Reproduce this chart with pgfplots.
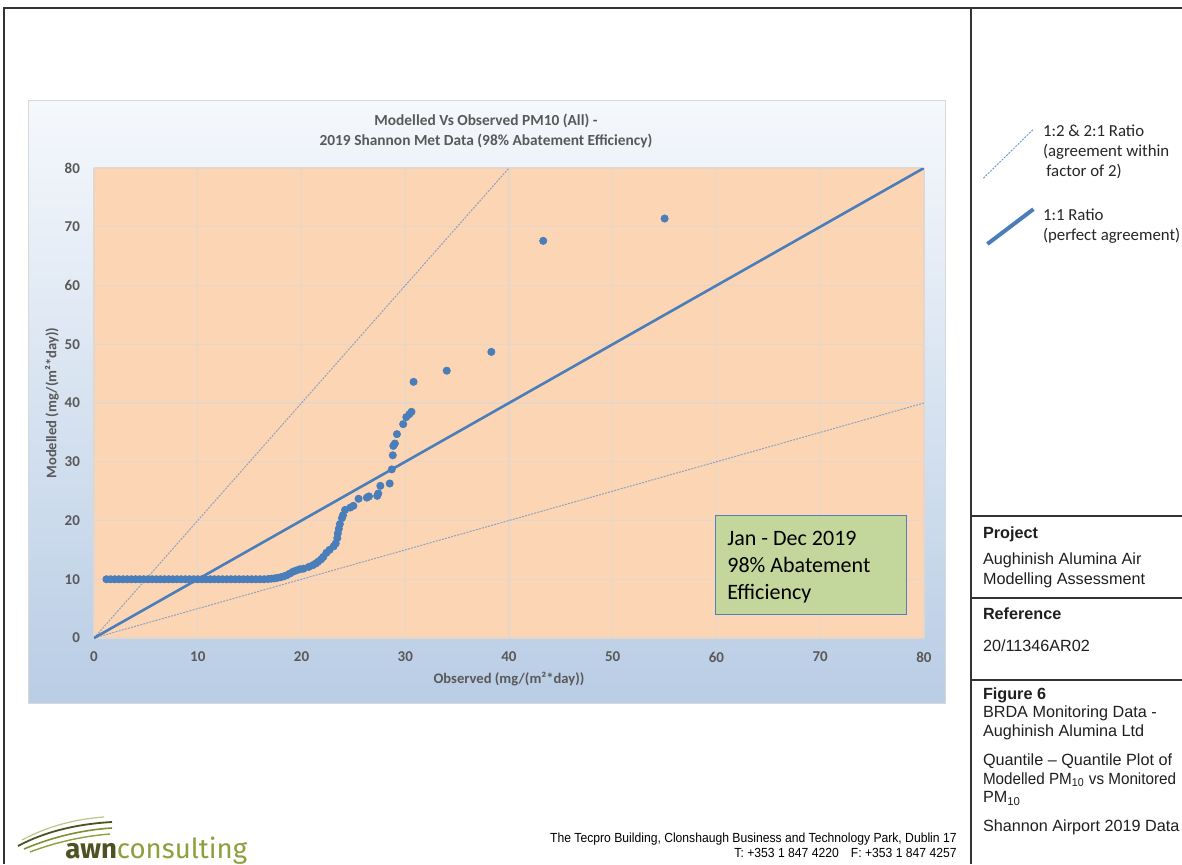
\documentclass[border=0pt]{standalone}
\usepackage{fontspec}
\setmainfont{Carlito}
\newfontfamily\arial{Liberation Sans}
\newfontfamily\logofont{Fira Sans}
\usepackage{graphicx}
\usepackage{pgfplots}
\pgfplotsset{compat=1.18}

\definecolor{plotbg}{HTML}{FCD5B5}
\definecolor{gridc}{HTML}{E3D6CB}
\definecolor{markc}{HTML}{4A7EBB}
\definecolor{ratioc}{HTML}{8FA2C0}
\definecolor{legdash}{HTML}{7A9CCB}
\definecolor{labc}{HTML}{595959}
\definecolor{boxfill}{HTML}{C3D69B}
\definecolor{boxdraw}{HTML}{4F81BD}
\definecolor{chtop}{HTML}{F5F8FC}
\definecolor{chbot}{HTML}{B9CDE5}
\definecolor{chborder}{HTML}{D9D9D9}
\definecolor{framec}{HTML}{333333}
\definecolor{awndark}{HTML}{4E5122}
\definecolor{awngreen}{HTML}{8CA03C}

\begin{document}
\begin{tikzpicture}
\useasboundingbox (0,0) rectangle (591pt,432pt);
\fill[white] (0,0) rectangle (591pt,432pt);

% chart area
\shade[top color=chtop, bottom color=chbot] (14pt,80.5pt) rectangle (472.5pt,381.5pt);
\draw[chborder, line width=0.5pt] (14pt,80.5pt) rectangle (472.5pt,381.5pt);

% page frame
\draw[framec, line width=1pt] (1.5pt,428pt) -- (591pt,428pt);
\draw[framec, line width=0.8pt] (2pt,428pt) -- (2pt,0pt);
\draw[framec, line width=0.8pt] (485.5pt,428pt) -- (485.5pt,0pt);
\foreach \yy in {174,133,92}
  \draw[framec, line width=0.8pt] (485.5pt,\yy pt) -- (591pt,\yy pt);

\begin{axis}[
  at={(47pt,113pt)}, anchor=south west,
  scale only axis, width=415pt, height=235pt,
  xmin=0, xmax=80, ymin=0, ymax=80,
  xtick={0,10,...,80}, ytick={0,10,...,80},
  axis line style={draw=none},
  axis background/.style={fill=plotbg},
  grid=major,
  major grid style={draw=gridc, line width=0.6pt},
  major tick length=0pt,
  /pgf/number format/assume math mode=true,
  ticklabel style={font=\bfseries\fontsize{7.5}{9}\selectfont, text=labc},
  xticklabel style={anchor=center, yshift=-9.5pt},
  yticklabel style={anchor=east, xshift=-3.5pt},
  xlabel={Observed (mg/(m²*day))},
  ylabel={Modelled (mg/(m²*day))},
  label style={font=\bfseries\fontsize{7.3}{9}\selectfont, text=labc},
  xlabel style={at={(axis description cs:0.5,-0.0872)}, anchor=center},
  ylabel style={at={(axis description cs:-0.0506,0.5)}, anchor=center},
]
% 2:1 and 1:2 ratio
\addplot[ratioc, line width=0.5pt, dash pattern=on 1pt off 0.6pt] coordinates {(0,0) (40,80)};
\addplot[ratioc, line width=0.5pt, dash pattern=on 1pt off 0.6pt] coordinates {(0,0) (80,40)};
% 1:1 ratio
\addplot[markc, line width=1.3pt] coordinates {(0,0) (80,80)};
% quantile pairs
\addplot[only marks, mark=*, mark size=1.8pt, color=markc] coordinates {
 (1.2,10) (1.6,10) (2.0,10) (2.4,10) (2.8,10) (3.2,10) (3.6,10) (4.0,10)
 (4.4,10) (4.8,10) (5.2,10) (5.6,10) (6.0,10) (6.4,10) (6.8,10) (7.2,10)
 (7.6,10) (8.0,10) (8.4,10) (8.8,10) (9.2,10) (9.6,10) (10.0,10) (10.4,10)
 (10.8,10) (11.2,10) (11.6,10) (12.0,10) (12.4,10) (12.8,10) (13.2,10) (13.6,10)
 (14.0,10) (14.4,10) (14.8,10) (15.2,10) (15.6,10) (16.0,10) (16.4,10) (16.8,10.05)
 (17.1,10.1) (17.4,10.15) (17.7,10.25) (18.0,10.35) (18.3,10.5) (18.6,10.7)
 (18.9,11.0) (19.2,11.3) (19.5,11.5) (19.85,11.7) (20.2,11.8) (20.7,12.1)
 (21.1,12.4) (21.4,12.7) (21.6,13.0) (21.9,13.4) (22.1,13.8) (22.4,14.5)
 (22.7,15.0) (23.1,15.6) (23.3,16.1) (23.45,17.0) (23.5,17.8) (23.6,18.6)
 (23.7,19.4) (23.9,20.4) (24.0,20.9) (24.2,21.8) (24.7,22.2) (25.0,22.5)
 (25.5,23.7) (26.3,23.9) (26.5,24.1) (27.3,24.2) (27.4,24.6) (27.6,25.9)
 (28.5,26.3) (28.7,28.7) (28.8,31.1) (28.85,32.7) (29.0,33.1) (29.2,34.7)
 (29.8,36.4) (30.1,37.6) (30.4,38.1) (30.6,38.5) (30.8,43.6) (34.0,45.5)
 (38.3,48.7) (43.3,67.6) (55.0,71.4)
};
\end{axis}

% chart title
\node[font=\bfseries\fontsize{7.7}{10}\selectfont, text=labc, align=center] at (243pt,366.5pt)
  {Modelled Vs Observed PM10 (All) -\\2019 Shannon Met Data (98\% Abatement Efficiency)};

% text box
\draw[boxdraw, fill=boxfill, line width=0.5pt] (357.5pt,125pt) rectangle (453pt,174.5pt);
\begin{scope}[every node/.style={anchor=base west, inner sep=0pt, font=\fontsize{11}{13}\selectfont}]
\node at (363.5pt,159.5pt) {Jan - Dec 2019};
\node at (363.5pt,146pt) {98\% Abatement};
\node at (363.5pt,132.5pt) {Efficiency};
\end{scope}

% sidebar legend
\draw[legdash, line width=0.5pt, dash pattern=on 1pt off 0.6pt] (491.7pt,342.9pt) -- (516.7pt,367.4pt);
\draw[markc, line width=2pt] (493.7pt,310pt) -- (516.7pt,327.4pt);
\begin{scope}[every node/.style={anchor=base west, inner sep=0pt, font=\fontsize{8.4}{10}\selectfont, text=black!85}]
\node at (521.3pt,363.9pt) {1:2 \& 2:1 Ratio};
\node at (521.3pt,353.8pt) {(agreement within};
\node at (523pt,343.9pt) {factor of 2)};
\node at (521.3pt,321.6pt) {1:1 Ratio};
\node at (521.3pt,312pt) {(perfect agreement)};
\end{scope}

% sidebar info
\begin{scope}[every node/.style={anchor=base west, inner sep=0pt, font=\arial\fontsize{8.1}{10}\selectfont, text=black!88}]
\node[font=\arial\bfseries\fontsize{8.1}{10}\selectfont] at (491.3pt,162.7pt) {Project};
\node at (491.3pt,149.8pt) {Aughinish Alumina Air};
\node at (491.3pt,139.8pt) {Modelling Assessment};
\node[font=\arial\bfseries\fontsize{8.1}{10}\selectfont] at (491.3pt,122.3pt) {Reference};
\node at (491.3pt,106.5pt) {20/11346AR02};
\node[font=\arial\bfseries\fontsize{8.1}{10}\selectfont] at (491.3pt,82.3pt) {Figure 6};
\node at (491.3pt,73.2pt) {BRDA Monitoring Data -};
\node at (491.3pt,64pt) {Aughinish Alumina Ltd};
\node at (491.3pt,49.3pt) {Quantile – Quantile Plot of};
\node at (491.3pt,39.8pt) {\scalebox{0.94}[1]{Modelled PM\textsubscript{10} vs Monitored}};
\node at (491.3pt,30.7pt) {PM\textsubscript{10}};
\node at (491.3pt,16.5pt) {Shannon Airport 2019 Data};
\end{scope}

% footer address
\node[anchor=base east, inner sep=0pt] at (478.5pt,10.7pt)
  {\scalebox{0.92}[1]{\arial\fontsize{6.6}{7}\selectfont The Tecpro Building, Clonshaugh Business and Technology Park, Dublin 17}};
\node[anchor=base east, inner sep=0pt] at (478.5pt,3.2pt)
  {\scalebox{0.92}[1]{\arial\fontsize{6.6}{7}\selectfont T: +353 1 847 4220\quad F: +353 1 847 4257}};

% logo
\draw[awndark, line width=0.9pt] (9pt,9pt) .. controls (22pt,16pt) and (38pt,20pt) .. (56pt,21pt);
\draw[awngreen!80!awndark, line width=0.8pt] (12pt,7.5pt) .. controls (25pt,13pt) and (40pt,17pt) .. (56pt,18pt);
\draw[awngreen, line width=0.7pt] (15pt,6pt) .. controls (28pt,11pt) and (42pt,14pt) .. (55pt,15pt);
\draw[awngreen!60!white, line width=0.6pt] (11pt,12pt) .. controls (24pt,19pt) and (38pt,22.5pt) .. (52pt,23.5pt);
\node[anchor=base west, inner sep=0pt] at (32.5pt,2.8pt)
  {\logofont\fontsize{13.8}{14}\selectfont\textcolor{awndark}{\bfseries awn}\textcolor{awngreen}{consulting}};
\end{tikzpicture}
\end{document}
